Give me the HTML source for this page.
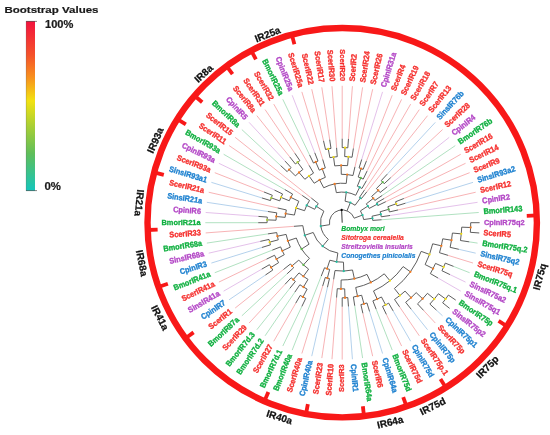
<!DOCTYPE html>
<html><head><meta charset="utf-8"><style>
html,body{margin:0;padding:0;background:#fff;}
svg{display:block;will-change:transform;}
text{-webkit-font-smoothing:antialiased;}
text{font-family:"Liberation Sans",sans-serif;}
</style></head><body>
<svg width="550" height="435" viewBox="0 0 550 435">
<defs><linearGradient id="cb" x1="0" y1="0" x2="0" y2="1">
<stop offset="0" stop-color="#f3123e"/><stop offset="0.2" stop-color="#f5522a"/><stop offset="0.33" stop-color="#f8901e"/>
<stop offset="0.47" stop-color="#f2e211"/><stop offset="0.62" stop-color="#a8cf35"/><stop offset="0.78" stop-color="#5fbe5a"/>
<stop offset="1" stop-color="#14c6bc"/></linearGradient></defs>
<rect width="550" height="435" fill="#fff"/>

<text transform="translate(4.4 13.0) scale(1.165 1)" font-size="9.9" font-weight="bold" fill="#1a1a1a" stroke="#1a1a1a" stroke-width="0.2">Bootstrap Values</text>
<rect x="26" y="21" width="9" height="170" fill="url(#cb)"/>
<line x1="26" y1="21.4" x2="37" y2="21.4" stroke="#555" stroke-width="0.7"/>
<line x1="26.2" y1="21" x2="26.2" y2="191" stroke="#666" stroke-width="0.5" opacity="0.6"/>
<line x1="26" y1="190.6" x2="37" y2="190.6" stroke="#555" stroke-width="0.7"/>
<text transform="translate(45.0 28.45) scale(1.1 1)" font-size="10.1" font-weight="bold" fill="#1a1a1a" stroke="#1a1a1a" stroke-width="0.2">100%</text>
<text transform="translate(44.5 190.4) scale(1.13 1)" font-size="10.1" font-weight="bold" fill="#1a1a1a" stroke="#1a1a1a" stroke-width="0.2">0%</text>
<line x1="348.48" y1="138.93" x2="352.43" y2="86.18" stroke="#f6a5a8" stroke-width="0.85"/>
<line x1="353.39" y1="148.44" x2="362.60" y2="87.33" stroke="#f6a5a8" stroke-width="0.85"/>
<line x1="354.95" y1="166.84" x2="372.66" y2="89.23" stroke="#f6a5a8" stroke-width="0.85"/>
<line x1="361.71" y1="159.44" x2="382.55" y2="91.88" stroke="#dfb6e6" stroke-width="0.85"/>
<line x1="366.39" y1="161.08" x2="392.22" y2="95.26" stroke="#f6a5a8" stroke-width="0.85"/>
<line x1="367.06" y1="171.07" x2="401.60" y2="99.36" stroke="#f6a5a8" stroke-width="0.85"/>
<line x1="366.40" y1="180.78" x2="410.65" y2="104.14" stroke="#f6a5a8" stroke-width="0.85"/>
<line x1="364.45" y1="190.06" x2="419.32" y2="109.59" stroke="#f6a5a8" stroke-width="0.85"/>
<line x1="366.83" y1="191.82" x2="427.56" y2="115.67" stroke="#f6a5a8" stroke-width="0.85"/>
<line x1="387.23" y1="174.17" x2="435.32" y2="122.35" stroke="#a6c9e8" stroke-width="0.85"/>
<line x1="390.73" y1="177.67" x2="442.55" y2="129.58" stroke="#f6a5a8" stroke-width="0.85"/>
<line x1="387.00" y1="186.97" x2="449.23" y2="137.34" stroke="#dfb6e6" stroke-width="0.85"/>
<line x1="382.19" y1="195.44" x2="455.31" y2="145.58" stroke="#a3dcb6" stroke-width="0.85"/>
<line x1="384.12" y1="198.50" x2="460.76" y2="154.25" stroke="#f6a5a8" stroke-width="0.85"/>
<line x1="385.81" y1="201.70" x2="465.54" y2="163.30" stroke="#f6a5a8" stroke-width="0.85"/>
<line x1="403.82" y1="198.51" x2="469.64" y2="172.68" stroke="#f6a5a8" stroke-width="0.85"/>
<line x1="405.46" y1="203.19" x2="473.02" y2="182.35" stroke="#a6c9e8" stroke-width="0.85"/>
<line x1="398.06" y1="209.95" x2="475.67" y2="192.24" stroke="#f6a5a8" stroke-width="0.85"/>
<line x1="390.06" y1="215.49" x2="477.57" y2="202.30" stroke="#dfb6e6" stroke-width="0.85"/>
<line x1="381.59" y1="219.75" x2="478.72" y2="212.47" stroke="#a3dcb6" stroke-width="0.85"/>
<line x1="469.26" y1="241.85" x2="477.57" y2="243.10" stroke="#a3dcb6" stroke-width="0.85"/>
<line x1="458.80" y1="249.31" x2="475.67" y2="253.16" stroke="#a6c9e8" stroke-width="0.85"/>
<line x1="447.98" y1="255.33" x2="473.02" y2="263.05" stroke="#f6a5a8" stroke-width="0.85"/>
<line x1="453.53" y1="266.39" x2="469.64" y2="272.72" stroke="#a3dcb6" stroke-width="0.85"/>
<line x1="449.96" y1="274.59" x2="465.54" y2="282.10" stroke="#dfb6e6" stroke-width="0.85"/>
<line x1="438.07" y1="278.05" x2="460.76" y2="291.15" stroke="#dfb6e6" stroke-width="0.85"/>
<line x1="436.40" y1="310.10" x2="442.55" y2="315.82" stroke="#a6c9e8" stroke-width="0.85"/>
<line x1="423.55" y1="310.37" x2="435.32" y2="323.05" stroke="#f6a5a8" stroke-width="0.85"/>
<line x1="411.22" y1="309.25" x2="427.56" y2="329.73" stroke="#a6c9e8" stroke-width="0.85"/>
<line x1="399.55" y1="306.81" x2="419.32" y2="335.81" stroke="#f6a5a8" stroke-width="0.85"/>
<line x1="393.10" y1="310.86" x2="410.65" y2="341.26" stroke="#a6c9e8" stroke-width="0.85"/>
<line x1="386.37" y1="314.42" x2="401.60" y2="346.04" stroke="#f6a5a8" stroke-width="0.85"/>
<line x1="376.14" y1="309.18" x2="392.22" y2="350.14" stroke="#a3dcb6" stroke-width="0.85"/>
<line x1="369.58" y1="311.47" x2="382.55" y2="353.52" stroke="#a6c9e8" stroke-width="0.85"/>
<line x1="362.87" y1="313.27" x2="372.66" y2="356.17" stroke="#f6a5a8" stroke-width="0.85"/>
<line x1="354.72" y1="305.76" x2="362.60" y2="358.07" stroke="#a3dcb6" stroke-width="0.85"/>
<line x1="348.48" y1="306.47" x2="352.43" y2="359.22" stroke="#a6c9e8" stroke-width="0.85"/>
<line x1="342.20" y1="306.70" x2="342.20" y2="359.60" stroke="#f6a5a8" stroke-width="0.85"/>
<line x1="336.59" y1="297.59" x2="331.97" y2="359.22" stroke="#f6a5a8" stroke-width="0.85"/>
<line x1="333.66" y1="279.36" x2="321.80" y2="358.07" stroke="#f6a5a8" stroke-width="0.85"/>
<line x1="327.47" y1="287.24" x2="311.74" y2="356.17" stroke="#a6c9e8" stroke-width="0.85"/>
<line x1="322.69" y1="285.96" x2="301.85" y2="353.52" stroke="#f6a5a8" stroke-width="0.85"/>
<line x1="321.27" y1="276.04" x2="292.18" y2="350.14" stroke="#a3dcb6" stroke-width="0.85"/>
<line x1="301.89" y1="306.40" x2="282.80" y2="346.04" stroke="#a3dcb6" stroke-width="0.85"/>
<line x1="295.75" y1="303.15" x2="273.75" y2="341.26" stroke="#f6a5a8" stroke-width="0.85"/>
<line x1="294.88" y1="292.10" x2="265.08" y2="335.81" stroke="#a3dcb6" stroke-width="0.85"/>
<line x1="289.83" y1="288.37" x2="256.84" y2="329.73" stroke="#a3dcb6" stroke-width="0.85"/>
<line x1="285.07" y1="284.28" x2="249.08" y2="323.05" stroke="#f6a5a8" stroke-width="0.85"/>
<line x1="287.15" y1="273.78" x2="241.85" y2="315.82" stroke="#a3dcb6" stroke-width="0.85"/>
<line x1="283.48" y1="269.52" x2="235.17" y2="308.06" stroke="#f6a5a8" stroke-width="0.85"/>
<line x1="265.44" y1="275.03" x2="229.09" y2="299.82" stroke="#a6c9e8" stroke-width="0.85"/>
<line x1="261.75" y1="269.15" x2="223.64" y2="291.15" stroke="#dfb6e6" stroke-width="0.85"/>
<line x1="266.52" y1="259.15" x2="218.86" y2="282.10" stroke="#f6a5a8" stroke-width="0.85"/>
<line x1="272.29" y1="250.14" x2="214.76" y2="272.72" stroke="#a3dcb6" stroke-width="0.85"/>
<line x1="261.93" y1="247.46" x2="211.38" y2="263.05" stroke="#a6c9e8" stroke-width="0.85"/>
<line x1="260.31" y1="241.39" x2="208.73" y2="253.16" stroke="#dfb6e6" stroke-width="0.85"/>
<line x1="267.94" y1="233.89" x2="206.83" y2="243.10" stroke="#a3dcb6" stroke-width="0.85"/>
<line x1="293.94" y1="226.32" x2="205.68" y2="232.93" stroke="#f6a5a8" stroke-width="0.85"/>
<line x1="258.20" y1="222.70" x2="205.30" y2="222.70" stroke="#a3dcb6" stroke-width="0.85"/>
<line x1="258.43" y1="216.42" x2="205.68" y2="212.47" stroke="#dfb6e6" stroke-width="0.85"/>
<line x1="267.94" y1="211.51" x2="206.83" y2="202.30" stroke="#a6c9e8" stroke-width="0.85"/>
<line x1="277.66" y1="207.97" x2="208.73" y2="192.24" stroke="#f6a5a8" stroke-width="0.85"/>
<line x1="261.93" y1="197.94" x2="211.38" y2="182.35" stroke="#a6c9e8" stroke-width="0.85"/>
<line x1="264.01" y1="192.01" x2="214.76" y2="172.68" stroke="#f6a5a8" stroke-width="0.85"/>
<line x1="274.54" y1="190.12" x2="218.86" y2="163.30" stroke="#dfb6e6" stroke-width="0.85"/>
<line x1="284.87" y1="189.60" x2="223.64" y2="154.25" stroke="#a3dcb6" stroke-width="0.85"/>
<line x1="302.21" y1="195.44" x2="229.09" y2="145.58" stroke="#f6a5a8" stroke-width="0.85"/>
<line x1="311.32" y1="198.07" x2="235.17" y2="137.34" stroke="#f6a5a8" stroke-width="0.85"/>
<line x1="280.62" y1="165.57" x2="241.85" y2="129.58" stroke="#a3dcb6" stroke-width="0.85"/>
<line x1="285.07" y1="161.12" x2="249.08" y2="122.35" stroke="#dfb6e6" stroke-width="0.85"/>
<line x1="289.83" y1="157.03" x2="256.84" y2="115.67" stroke="#f6a5a8" stroke-width="0.85"/>
<line x1="294.88" y1="153.30" x2="265.08" y2="109.59" stroke="#f6a5a8" stroke-width="0.85"/>
<line x1="309.10" y1="165.37" x2="273.75" y2="104.14" stroke="#f6a5a8" stroke-width="0.85"/>
<line x1="309.62" y1="155.04" x2="282.80" y2="99.36" stroke="#a3dcb6" stroke-width="0.85"/>
<line x1="314.76" y1="152.79" x2="292.18" y2="95.26" stroke="#dfb6e6" stroke-width="0.85"/>
<line x1="322.69" y1="159.44" x2="301.85" y2="91.88" stroke="#f6a5a8" stroke-width="0.85"/>
<line x1="323.51" y1="140.81" x2="311.74" y2="89.23" stroke="#f6a5a8" stroke-width="0.85"/>
<line x1="329.68" y1="139.64" x2="321.80" y2="87.33" stroke="#f6a5a8" stroke-width="0.85"/>
<line x1="336.59" y1="147.81" x2="331.97" y2="86.18" stroke="#f6a5a8" stroke-width="0.85"/>
<line x1="342.20" y1="138.70" x2="342.20" y2="85.80" stroke="#f6a5a8" stroke-width="0.85"/>
<text transform="translate(352.79 81.40) rotate(-85.71) scale(1 1.08)" text-anchor="start" dy="0.24em" font-size="7.4" font-weight="bold" fill="#f5302e" stroke="#f5302e" stroke-width="0.3">ScerIR2</text>
<text transform="translate(363.32 82.58) rotate(-81.43) scale(1 1.08)" text-anchor="start" dy="0.24em" font-size="7.4" font-weight="bold" fill="#f5302e" stroke="#f5302e" stroke-width="0.3">ScerIR24</text>
<text transform="translate(373.73 84.55) rotate(-77.14) scale(1 1.08)" text-anchor="start" dy="0.24em" font-size="7.4" font-weight="bold" fill="#f5302e" stroke="#f5302e" stroke-width="0.3">ScerIR26</text>
<text transform="translate(383.97 87.30) rotate(-72.86) scale(1 1.08)" text-anchor="start" dy="0.24em" font-size="7.4" font-weight="bold" fill="#b347c6" stroke="#b347c6" stroke-width="0.3">CpinIR31a</text>
<text transform="translate(393.97 90.80) rotate(-68.57) scale(1 1.08)" text-anchor="start" dy="0.24em" font-size="7.4" font-weight="bold" fill="#f5302e" stroke="#f5302e" stroke-width="0.3">ScerIR4</text>
<text transform="translate(403.68 95.03) rotate(-64.29) scale(1 1.08)" text-anchor="start" dy="0.24em" font-size="7.4" font-weight="bold" fill="#f5302e" stroke="#f5302e" stroke-width="0.3">ScerIR19</text>
<text transform="translate(413.05 99.98) rotate(-60.00) scale(1 1.08)" text-anchor="start" dy="0.24em" font-size="7.4" font-weight="bold" fill="#f5302e" stroke="#f5302e" stroke-width="0.3">ScerIR18</text>
<text transform="translate(422.02 105.62) rotate(-55.71) scale(1 1.08)" text-anchor="start" dy="0.24em" font-size="7.4" font-weight="bold" fill="#f5302e" stroke="#f5302e" stroke-width="0.3">ScerIR7</text>
<text transform="translate(430.55 111.91) rotate(-51.43) scale(1 1.08)" text-anchor="start" dy="0.24em" font-size="7.4" font-weight="bold" fill="#f5302e" stroke="#f5302e" stroke-width="0.3">ScerIR13</text>
<text transform="translate(438.58 118.83) rotate(-47.14) scale(1 1.08)" text-anchor="start" dy="0.24em" font-size="7.4" font-weight="bold" fill="#1f82d0" stroke="#1f82d0" stroke-width="0.3">SinsIR76b</text>
<text transform="translate(446.07 126.32) rotate(-42.86) scale(1 1.08)" text-anchor="start" dy="0.24em" font-size="7.4" font-weight="bold" fill="#f5302e" stroke="#f5302e" stroke-width="0.3">ScerIR28</text>
<text transform="translate(452.99 134.35) rotate(-38.57) scale(1 1.08)" text-anchor="start" dy="0.24em" font-size="7.4" font-weight="bold" fill="#b347c6" stroke="#b347c6" stroke-width="0.3">CpinIR4</text>
<text transform="translate(459.28 142.88) rotate(-34.29) scale(1 1.08)" text-anchor="start" dy="0.24em" font-size="7.4" font-weight="bold" fill="#10b040" stroke="#10b040" stroke-width="0.3">BmorIR76b</text>
<text transform="translate(464.92 151.85) rotate(-30.00) scale(1 1.08)" text-anchor="start" dy="0.24em" font-size="7.4" font-weight="bold" fill="#f5302e" stroke="#f5302e" stroke-width="0.3">ScerIR16</text>
<text transform="translate(469.87 161.22) rotate(-25.71) scale(1 1.08)" text-anchor="start" dy="0.24em" font-size="7.4" font-weight="bold" fill="#f5302e" stroke="#f5302e" stroke-width="0.3">ScerIR14</text>
<text transform="translate(474.10 170.93) rotate(-21.43) scale(1 1.08)" text-anchor="start" dy="0.24em" font-size="7.4" font-weight="bold" fill="#f5302e" stroke="#f5302e" stroke-width="0.3">ScerIR9</text>
<text transform="translate(477.60 180.93) rotate(-17.14) scale(1 1.08)" text-anchor="start" dy="0.24em" font-size="7.4" font-weight="bold" fill="#1f82d0" stroke="#1f82d0" stroke-width="0.3">SinsIR93a2</text>
<text transform="translate(480.35 191.17) rotate(-12.86) scale(1 1.08)" text-anchor="start" dy="0.24em" font-size="7.4" font-weight="bold" fill="#f5302e" stroke="#f5302e" stroke-width="0.3">ScerIR12</text>
<text transform="translate(482.32 201.58) rotate(-8.57) scale(1 1.08)" text-anchor="start" dy="0.24em" font-size="7.4" font-weight="bold" fill="#b347c6" stroke="#b347c6" stroke-width="0.3">CpinIR2</text>
<text transform="translate(483.50 212.11) rotate(-4.29) scale(1 1.08)" text-anchor="start" dy="0.24em" font-size="7.4" font-weight="bold" fill="#10b040" stroke="#10b040" stroke-width="0.3">BmorIR143</text>
<text transform="translate(483.90 222.70) rotate(0.00) scale(1 1.08)" text-anchor="start" dy="0.24em" font-size="7.4" font-weight="bold" fill="#b347c6" stroke="#b347c6" stroke-width="0.3">CpinIR75q2</text>
<text transform="translate(483.50 233.29) rotate(4.29) scale(1 1.08)" text-anchor="start" dy="0.24em" font-size="7.4" font-weight="bold" fill="#f5302e" stroke="#f5302e" stroke-width="0.3">ScerIR5</text>
<text transform="translate(482.32 243.82) rotate(8.57) scale(1 1.08)" text-anchor="start" dy="0.24em" font-size="7.4" font-weight="bold" fill="#10b040" stroke="#10b040" stroke-width="0.3">BmorIR75q.2</text>
<text transform="translate(480.35 254.23) rotate(12.86) scale(1 1.08)" text-anchor="start" dy="0.24em" font-size="7.4" font-weight="bold" fill="#1f82d0" stroke="#1f82d0" stroke-width="0.3">SinsIR75q2</text>
<text transform="translate(477.60 264.47) rotate(17.14) scale(1 1.08)" text-anchor="start" dy="0.24em" font-size="7.4" font-weight="bold" fill="#f5302e" stroke="#f5302e" stroke-width="0.3">ScerIR75q</text>
<text transform="translate(474.10 274.47) rotate(21.43) scale(1 1.08)" text-anchor="start" dy="0.24em" font-size="7.4" font-weight="bold" fill="#10b040" stroke="#10b040" stroke-width="0.3">BmorIR75q.1</text>
<text transform="translate(469.87 284.18) rotate(25.71) scale(1 1.08)" text-anchor="start" dy="0.24em" font-size="7.4" font-weight="bold" fill="#b347c6" stroke="#b347c6" stroke-width="0.3">SinsIR75a2</text>
<text transform="translate(464.92 293.55) rotate(30.00) scale(1 1.08)" text-anchor="start" dy="0.24em" font-size="7.4" font-weight="bold" fill="#b347c6" stroke="#b347c6" stroke-width="0.3">SinsIR75q1</text>
<text transform="translate(459.28 302.52) rotate(34.29) scale(1 1.08)" text-anchor="start" dy="0.24em" font-size="7.4" font-weight="bold" fill="#10b040" stroke="#10b040" stroke-width="0.3">BmorIR75p</text>
<text transform="translate(452.99 311.05) rotate(38.57) scale(1 1.08)" text-anchor="start" dy="0.24em" font-size="7.4" font-weight="bold" fill="#b347c6" stroke="#b347c6" stroke-width="0.3">SinsIR75p2</text>
<text transform="translate(446.07 319.08) rotate(42.86) scale(1 1.08)" text-anchor="start" dy="0.24em" font-size="7.4" font-weight="bold" fill="#1f82d0" stroke="#1f82d0" stroke-width="0.3">CpinIR75p1</text>
<text transform="translate(438.58 326.57) rotate(47.14) scale(1 1.08)" text-anchor="start" dy="0.24em" font-size="7.4" font-weight="bold" fill="#f5302e" stroke="#f5302e" stroke-width="0.3">ScerIR75p</text>
<text transform="translate(430.55 333.49) rotate(51.43) scale(1 1.08)" text-anchor="start" dy="0.24em" font-size="7.4" font-weight="bold" fill="#1f82d0" stroke="#1f82d0" stroke-width="0.3">CpinIR75p</text>
<text transform="translate(422.02 339.78) rotate(55.71) scale(1 1.08)" text-anchor="start" dy="0.24em" font-size="7.4" font-weight="bold" fill="#f5302e" stroke="#f5302e" stroke-width="0.3">ScerIR75p.1</text>
<text transform="translate(413.05 345.42) rotate(60.00) scale(1 1.08)" text-anchor="start" dy="0.24em" font-size="7.4" font-weight="bold" fill="#1f82d0" stroke="#1f82d0" stroke-width="0.3">CpinIR75d</text>
<text transform="translate(403.68 350.37) rotate(64.29) scale(1 1.08)" text-anchor="start" dy="0.24em" font-size="7.4" font-weight="bold" fill="#f5302e" stroke="#f5302e" stroke-width="0.3">ScerIR75d</text>
<text transform="translate(393.97 354.60) rotate(68.57) scale(1 1.08)" text-anchor="start" dy="0.24em" font-size="7.4" font-weight="bold" fill="#10b040" stroke="#10b040" stroke-width="0.3">BmorIR75d</text>
<text transform="translate(383.97 358.10) rotate(72.86) scale(1 1.08)" text-anchor="start" dy="0.24em" font-size="7.4" font-weight="bold" fill="#1f82d0" stroke="#1f82d0" stroke-width="0.3">CpinIR64a</text>
<text transform="translate(373.73 360.85) rotate(77.14) scale(1 1.08)" text-anchor="start" dy="0.24em" font-size="7.4" font-weight="bold" fill="#f5302e" stroke="#f5302e" stroke-width="0.3">ScerIR6</text>
<text transform="translate(363.32 362.82) rotate(81.43) scale(1 1.08)" text-anchor="start" dy="0.24em" font-size="7.4" font-weight="bold" fill="#10b040" stroke="#10b040" stroke-width="0.3">BmorIR64a</text>
<text transform="translate(352.79 364.00) rotate(85.71) scale(1 1.08)" text-anchor="start" dy="0.24em" font-size="7.4" font-weight="bold" fill="#1f82d0" stroke="#1f82d0" stroke-width="0.3">CpinIR1</text>
<text transform="translate(342.20 364.40) rotate(-90.00) scale(1 1.08)" text-anchor="end" dy="0.24em" font-size="7.4" font-weight="bold" fill="#f5302e" stroke="#f5302e" stroke-width="0.3">ScerIR3</text>
<text transform="translate(331.61 364.00) rotate(-85.71) scale(1 1.08)" text-anchor="end" dy="0.24em" font-size="7.4" font-weight="bold" fill="#f5302e" stroke="#f5302e" stroke-width="0.3">ScerIR10</text>
<text transform="translate(321.08 362.82) rotate(-81.43) scale(1 1.08)" text-anchor="end" dy="0.24em" font-size="7.4" font-weight="bold" fill="#f5302e" stroke="#f5302e" stroke-width="0.3">ScerIR23</text>
<text transform="translate(310.67 360.85) rotate(-77.14) scale(1 1.08)" text-anchor="end" dy="0.24em" font-size="7.4" font-weight="bold" fill="#1f82d0" stroke="#1f82d0" stroke-width="0.3">CpinIR40a</text>
<text transform="translate(300.43 358.10) rotate(-72.86) scale(1 1.08)" text-anchor="end" dy="0.24em" font-size="7.4" font-weight="bold" fill="#f5302e" stroke="#f5302e" stroke-width="0.3">ScerIR40a</text>
<text transform="translate(290.43 354.60) rotate(-68.57) scale(1 1.08)" text-anchor="end" dy="0.24em" font-size="7.4" font-weight="bold" fill="#10b040" stroke="#10b040" stroke-width="0.3">BmorIR40a</text>
<text transform="translate(280.72 350.37) rotate(-64.29) scale(1 1.08)" text-anchor="end" dy="0.24em" font-size="7.4" font-weight="bold" fill="#10b040" stroke="#10b040" stroke-width="0.3">BmorIR7d.1</text>
<text transform="translate(271.35 345.42) rotate(-60.00) scale(1 1.08)" text-anchor="end" dy="0.24em" font-size="7.4" font-weight="bold" fill="#f5302e" stroke="#f5302e" stroke-width="0.3">ScerIR27</text>
<text transform="translate(262.38 339.78) rotate(-55.71) scale(1 1.08)" text-anchor="end" dy="0.24em" font-size="7.4" font-weight="bold" fill="#10b040" stroke="#10b040" stroke-width="0.3">BmorIR7d.2</text>
<text transform="translate(253.85 333.49) rotate(-51.43) scale(1 1.08)" text-anchor="end" dy="0.24em" font-size="7.4" font-weight="bold" fill="#10b040" stroke="#10b040" stroke-width="0.3">BmorIR7d.3</text>
<text transform="translate(245.82 326.57) rotate(-47.14) scale(1 1.08)" text-anchor="end" dy="0.24em" font-size="7.4" font-weight="bold" fill="#f5302e" stroke="#f5302e" stroke-width="0.3">ScerIR29</text>
<text transform="translate(238.33 319.08) rotate(-42.86) scale(1 1.08)" text-anchor="end" dy="0.24em" font-size="7.4" font-weight="bold" fill="#10b040" stroke="#10b040" stroke-width="0.3">BmorIR87a</text>
<text transform="translate(231.41 311.05) rotate(-38.57) scale(1 1.08)" text-anchor="end" dy="0.24em" font-size="7.4" font-weight="bold" fill="#f5302e" stroke="#f5302e" stroke-width="0.3">ScerIR1</text>
<text transform="translate(225.12 302.52) rotate(-34.29) scale(1 1.08)" text-anchor="end" dy="0.24em" font-size="7.4" font-weight="bold" fill="#1f82d0" stroke="#1f82d0" stroke-width="0.3">CpinIR7</text>
<text transform="translate(219.48 293.55) rotate(-30.00) scale(1 1.08)" text-anchor="end" dy="0.24em" font-size="7.4" font-weight="bold" fill="#b347c6" stroke="#b347c6" stroke-width="0.3">SinsIR41a</text>
<text transform="translate(214.53 284.18) rotate(-25.71) scale(1 1.08)" text-anchor="end" dy="0.24em" font-size="7.4" font-weight="bold" fill="#f5302e" stroke="#f5302e" stroke-width="0.3">ScerIR41a</text>
<text transform="translate(210.30 274.47) rotate(-21.43) scale(1 1.08)" text-anchor="end" dy="0.24em" font-size="7.4" font-weight="bold" fill="#10b040" stroke="#10b040" stroke-width="0.3">BmorIR41a</text>
<text transform="translate(206.80 264.47) rotate(-17.14) scale(1 1.08)" text-anchor="end" dy="0.24em" font-size="7.4" font-weight="bold" fill="#1f82d0" stroke="#1f82d0" stroke-width="0.3">CpinIR3</text>
<text transform="translate(204.05 254.23) rotate(-12.86) scale(1 1.08)" text-anchor="end" dy="0.24em" font-size="7.4" font-weight="bold" fill="#b347c6" stroke="#b347c6" stroke-width="0.3">SinsIR68a</text>
<text transform="translate(202.08 243.82) rotate(-8.57) scale(1 1.08)" text-anchor="end" dy="0.24em" font-size="7.4" font-weight="bold" fill="#10b040" stroke="#10b040" stroke-width="0.3">BmorIR68a</text>
<text transform="translate(200.90 233.29) rotate(-4.29) scale(1 1.08)" text-anchor="end" dy="0.24em" font-size="7.4" font-weight="bold" fill="#f5302e" stroke="#f5302e" stroke-width="0.3">ScerIR33</text>
<text transform="translate(200.50 222.70) rotate(0.00) scale(1 1.08)" text-anchor="end" dy="0.24em" font-size="7.4" font-weight="bold" fill="#10b040" stroke="#10b040" stroke-width="0.3">BmorIR21a</text>
<text transform="translate(200.90 212.11) rotate(4.29) scale(1 1.08)" text-anchor="end" dy="0.24em" font-size="7.4" font-weight="bold" fill="#b347c6" stroke="#b347c6" stroke-width="0.3">CpinIR6</text>
<text transform="translate(202.08 201.58) rotate(8.57) scale(1 1.08)" text-anchor="end" dy="0.24em" font-size="7.4" font-weight="bold" fill="#1f82d0" stroke="#1f82d0" stroke-width="0.3">SinsIR21a</text>
<text transform="translate(204.05 191.17) rotate(12.86) scale(1 1.08)" text-anchor="end" dy="0.24em" font-size="7.4" font-weight="bold" fill="#f5302e" stroke="#f5302e" stroke-width="0.3">ScerIR21a</text>
<text transform="translate(206.80 180.93) rotate(17.14) scale(1 1.08)" text-anchor="end" dy="0.24em" font-size="7.4" font-weight="bold" fill="#1f82d0" stroke="#1f82d0" stroke-width="0.3">SinsIR93a1</text>
<text transform="translate(210.30 170.93) rotate(21.43) scale(1 1.08)" text-anchor="end" dy="0.24em" font-size="7.4" font-weight="bold" fill="#f5302e" stroke="#f5302e" stroke-width="0.3">ScerIR93a</text>
<text transform="translate(214.53 161.22) rotate(25.71) scale(1 1.08)" text-anchor="end" dy="0.24em" font-size="7.4" font-weight="bold" fill="#b347c6" stroke="#b347c6" stroke-width="0.3">CpinIR93a</text>
<text transform="translate(219.48 151.85) rotate(30.00) scale(1 1.08)" text-anchor="end" dy="0.24em" font-size="7.4" font-weight="bold" fill="#10b040" stroke="#10b040" stroke-width="0.3">BmorIR93a</text>
<text transform="translate(225.12 142.88) rotate(34.29) scale(1 1.08)" text-anchor="end" dy="0.24em" font-size="7.4" font-weight="bold" fill="#f5302e" stroke="#f5302e" stroke-width="0.3">ScerIR11</text>
<text transform="translate(231.41 134.35) rotate(38.57) scale(1 1.08)" text-anchor="end" dy="0.24em" font-size="7.4" font-weight="bold" fill="#f5302e" stroke="#f5302e" stroke-width="0.3">ScerIR15</text>
<text transform="translate(238.33 126.32) rotate(42.86) scale(1 1.08)" text-anchor="end" dy="0.24em" font-size="7.4" font-weight="bold" fill="#10b040" stroke="#10b040" stroke-width="0.3">BmorIR8a</text>
<text transform="translate(245.82 118.83) rotate(47.14) scale(1 1.08)" text-anchor="end" dy="0.24em" font-size="7.4" font-weight="bold" fill="#b347c6" stroke="#b347c6" stroke-width="0.3">CpinIR5</text>
<text transform="translate(253.85 111.91) rotate(51.43) scale(1 1.08)" text-anchor="end" dy="0.24em" font-size="7.4" font-weight="bold" fill="#f5302e" stroke="#f5302e" stroke-width="0.3">ScerIR8a</text>
<text transform="translate(262.38 105.62) rotate(55.71) scale(1 1.08)" text-anchor="end" dy="0.24em" font-size="7.4" font-weight="bold" fill="#f5302e" stroke="#f5302e" stroke-width="0.3">ScerIR31</text>
<text transform="translate(271.35 99.98) rotate(60.00) scale(1 1.08)" text-anchor="end" dy="0.24em" font-size="7.4" font-weight="bold" fill="#f5302e" stroke="#f5302e" stroke-width="0.3">ScerIR32</text>
<text transform="translate(280.72 95.03) rotate(64.29) scale(1 1.08)" text-anchor="end" dy="0.24em" font-size="7.4" font-weight="bold" fill="#10b040" stroke="#10b040" stroke-width="0.3">BmorIR25a</text>
<text transform="translate(290.43 90.80) rotate(68.57) scale(1 1.08)" text-anchor="end" dy="0.24em" font-size="7.4" font-weight="bold" fill="#b347c6" stroke="#b347c6" stroke-width="0.3">CpinIR25a</text>
<text transform="translate(300.43 87.30) rotate(72.86) scale(1 1.08)" text-anchor="end" dy="0.24em" font-size="7.4" font-weight="bold" fill="#f5302e" stroke="#f5302e" stroke-width="0.3">ScerIR25a</text>
<text transform="translate(310.67 84.55) rotate(77.14) scale(1 1.08)" text-anchor="end" dy="0.24em" font-size="7.4" font-weight="bold" fill="#f5302e" stroke="#f5302e" stroke-width="0.3">ScerIR22</text>
<text transform="translate(321.08 82.58) rotate(81.43) scale(1 1.08)" text-anchor="end" dy="0.24em" font-size="7.4" font-weight="bold" fill="#f5302e" stroke="#f5302e" stroke-width="0.3">ScerIR17</text>
<text transform="translate(331.61 81.40) rotate(85.71) scale(1 1.08)" text-anchor="end" dy="0.24em" font-size="7.4" font-weight="bold" fill="#f5302e" stroke="#f5302e" stroke-width="0.3">ScerIR30</text>
<text transform="translate(342.20 81.00) rotate(90.00) scale(1 1.08)" text-anchor="end" dy="0.24em" font-size="7.4" font-weight="bold" fill="#f5302e" stroke="#f5302e" stroke-width="0.3">ScerIR20</text>
<path d="M287.15 171.62A75.10 75.10 0 0 1 291.12 167.65M295.38 163.98A75.10 75.10 0 0 1 299.89 160.65M295.39 175.89A66.20 66.20 0 0 1 302.89 169.44M304.82 179.27A57.30 57.30 0 0 1 313.55 173.08M313.48 163.06A66.20 66.20 0 0 1 318.01 161.08M319.29 170.18A57.30 57.30 0 0 1 325.31 167.95M314.19 183.23A48.40 48.40 0 0 1 325.36 177.32M325.49 149.48A75.10 75.10 0 0 1 331.01 148.44M329.89 157.65A66.20 66.20 0 0 1 337.25 156.69M342.20 147.60A75.10 75.10 0 0 1 347.81 147.81M344.68 156.55A66.20 66.20 0 0 1 352.07 157.24M334.72 165.89A57.30 57.30 0 0 1 347.55 165.65M341.29 174.31A48.40 48.40 0 0 1 352.97 175.51M323.74 187.78A39.50 39.50 0 0 1 346.26 183.41M359.09 167.95A57.30 57.30 0 0 1 363.13 169.36M358.19 177.02A48.40 48.40 0 0 1 363.20 179.09M357.32 186.21A39.50 39.50 0 0 1 361.95 188.49M336.37 192.66A30.60 30.60 0 0 1 355.73 195.26M359.44 197.42A30.60 30.60 0 0 1 361.28 198.78M345.08 201.19A21.70 21.70 0 0 1 355.09 205.24M381.17 180.70A57.30 57.30 0 0 1 384.20 183.73M376.42 188.48A48.40 48.40 0 0 1 380.04 192.52M371.65 196.38A39.50 39.50 0 0 1 374.84 200.45M376.41 202.95A39.50 39.50 0 0 1 377.79 205.56M366.30 203.85A30.60 30.60 0 0 1 369.25 208.40M395.54 201.77A57.30 57.30 0 0 1 396.95 205.81M387.88 206.71A48.40 48.40 0 0 1 389.39 211.93M380.16 211.76A39.50 39.50 0 0 1 381.26 216.81M372.10 216.17A30.60 30.60 0 0 1 372.71 220.41M360.41 210.90A21.70 21.70 0 0 1 363.67 219.57M270.44 200.56A75.10 75.10 0 0 1 272.29 195.26M279.71 200.84A66.20 66.20 0 0 1 282.56 193.98M289.26 200.77A57.30 57.30 0 0 1 292.58 194.05M267.10 222.70A75.10 75.10 0 0 1 267.31 217.09M276.05 220.22A66.20 66.20 0 0 1 276.74 212.83M285.15 217.35A57.30 57.30 0 0 1 286.34 209.95M294.41 215.04A48.40 48.40 0 0 1 298.79 201.29M304.57 210.70A39.50 39.50 0 0 1 309.56 200.45M314.69 209.29A30.60 30.60 0 0 1 318.28 203.62M270.44 244.84A75.10 75.10 0 0 1 268.98 239.41M278.26 239.83A66.20 66.20 0 0 1 276.74 232.57M272.80 270.02A84.00 84.00 0 0 1 269.45 264.70M278.61 262.66A75.10 75.10 0 0 1 274.54 255.28M284.26 254.72A66.20 66.20 0 0 1 280.58 246.89M290.34 247.08A57.30 57.30 0 0 1 286.11 234.40M293.67 267.73A66.20 66.20 0 0 1 290.44 263.98M295.38 281.42A75.10 75.10 0 0 1 291.12 277.75M305.75 298.38A84.00 84.00 0 0 1 300.20 295.45M307.11 289.10A75.10 75.10 0 0 1 299.89 284.75M308.03 279.40A66.20 66.20 0 0 1 299.02 272.88M308.61 269.12A57.30 57.30 0 0 1 298.77 260.08M309.45 258.33A48.40 48.40 0 0 1 296.30 238.04M309.05 244.18A39.50 39.50 0 0 1 302.81 225.65M329.45 278.56A57.30 57.30 0 0 1 325.31 277.45M329.67 269.45A48.40 48.40 0 0 1 324.52 267.75M347.81 297.59A75.10 75.10 0 0 1 342.20 297.80M344.68 288.85A66.20 66.20 0 0 1 337.25 288.71M366.96 302.97A84.00 84.00 0 0 1 360.89 304.59M361.64 295.24A75.10 75.10 0 0 1 353.39 296.96M448.37 295.09A128.50 128.50 0 0 1 442.67 302.82M438.43 293.72A119.60 119.60 0 0 1 429.87 304.05M427.44 293.33A110.70 110.70 0 0 1 417.50 303.85M416.17 292.64A101.80 101.80 0 0 1 405.67 302.29M405.07 291.10A92.90 92.90 0 0 1 394.53 299.46M470.70 222.70A128.50 128.50 0 0 1 470.34 232.30M461.72 227.17A119.60 119.60 0 0 1 460.46 240.53M452.42 233.04A110.70 110.70 0 0 1 450.12 247.33M442.72 238.81A101.80 101.80 0 0 1 439.48 252.71M445.25 263.14A110.70 110.70 0 0 1 441.94 270.73M435.51 263.41A101.80 101.80 0 0 1 430.36 273.60M432.67 243.80A92.90 92.90 0 0 1 425.13 264.57M421.16 251.37A84.00 84.00 0 0 1 394.42 288.50M388.65 303.15A92.90 92.90 0 0 1 382.51 306.40M381.45 296.97A84.00 84.00 0 0 1 372.89 300.89M403.14 266.59A75.10 75.10 0 0 1 373.51 290.96M384.26 273.82A66.20 66.20 0 0 1 355.72 287.50M366.97 274.37A57.30 57.30 0 0 1 341.13 279.99M352.49 269.99A48.40 48.40 0 0 1 334.99 270.56M343.48 262.18A39.50 39.50 0 0 1 329.85 260.22M337.84 252.99A30.60 30.60 0 0 1 313.20 232.47M328.31 239.38A21.70 21.70 0 0 1 323.85 211.11M329.56 224.70A12.80 12.80 0 0 1 354.18 218.19M287.15 171.62L280.62 165.57M291.12 167.65L285.07 161.12M295.38 163.98L289.83 157.03M299.89 160.65L294.88 153.30M295.39 175.89L289.10 169.60M302.89 169.44L297.60 162.27M304.82 179.27L299.02 172.52M313.55 173.08L309.10 165.37M313.48 163.06L309.62 155.04M318.01 161.08L314.76 152.79M319.29 170.18L315.73 162.02M325.31 167.95L322.69 159.44M314.19 183.23L309.04 175.97M325.36 177.32L322.27 168.98M325.49 149.48L323.51 140.81M331.01 148.44L329.68 139.64M329.89 157.65L328.24 148.91M337.25 156.69L336.59 147.81M342.20 147.60L342.20 138.70M347.81 147.81L348.48 138.93M344.68 156.55L345.01 147.65M352.07 157.24L353.39 148.44M334.72 165.89L333.56 157.07M347.55 165.65L348.38 156.79M341.29 174.31L341.13 165.41M352.97 175.51L354.95 166.84M323.74 187.78L319.58 179.91M346.26 183.41L347.17 174.56M359.09 167.95L361.71 159.44M363.13 169.36L366.39 161.08M358.19 177.02L361.12 168.62M363.20 179.09L367.06 171.07M357.32 186.21L360.72 177.98M361.95 188.49L366.40 180.78M336.37 192.66L334.68 183.92M355.73 195.26L359.67 187.27M359.44 197.42L364.45 190.06M361.28 198.78L366.83 191.82M345.08 201.19L346.27 192.37M355.09 205.24L360.37 198.08M381.17 180.70L387.23 174.17M384.20 183.73L390.73 177.67M376.42 188.48L382.72 182.18M380.04 192.52L387.00 186.97M371.65 196.38L378.29 190.45M374.84 200.45L382.19 195.44M376.41 202.95L384.12 198.50M377.79 205.56L385.81 201.70M366.30 203.85L373.31 198.36M369.25 208.40L377.12 204.24M395.54 201.77L403.82 198.51M396.95 205.81L405.46 203.19M387.88 206.71L396.28 203.78M389.39 211.93L398.06 209.95M380.16 211.76L388.71 209.30M381.26 216.81L390.06 215.49M372.10 216.17L380.79 214.27M372.71 220.41L381.59 219.75M360.41 210.90L367.88 206.06M363.67 219.57L372.48 218.28M270.44 200.56L261.93 197.94M272.29 195.26L264.01 192.01M279.71 200.84L271.31 197.90M282.56 193.98L274.54 190.12M289.26 200.77L281.04 197.37M292.58 194.05L284.87 189.60M267.10 222.70L258.20 222.70M267.31 217.09L258.43 216.42M276.05 220.22L267.15 219.89M276.74 212.83L267.94 211.51M285.15 217.35L276.29 216.52M286.34 209.95L277.66 207.97M298.79 201.29L290.81 197.36M294.41 215.04L285.62 213.63M304.57 210.70L296.09 208.00M309.56 200.45L302.21 195.44M314.69 209.29L306.69 205.40M318.28 203.62L311.32 198.07M270.44 244.84L261.93 247.46M268.98 239.41L260.31 241.39M278.26 239.83L269.66 242.14M276.74 232.57L267.94 233.89M272.80 270.02L265.44 275.03M269.45 264.70L261.75 269.15M278.61 262.66L271.08 267.39M274.54 255.28L266.52 259.15M284.26 254.72L276.47 259.03M280.58 246.89L272.29 250.14M286.11 234.40L277.40 236.22M290.34 247.08L282.29 250.86M293.67 267.73L287.15 273.78M290.44 263.98L283.48 269.52M295.38 281.42L289.83 288.37M291.12 277.75L285.07 284.28M305.75 298.38L301.89 306.40M300.20 295.45L295.75 303.15M307.11 289.10L302.95 296.97M299.89 284.75L294.88 292.10M299.02 272.88L293.21 279.62M308.03 279.40L303.44 287.02M298.77 260.08L292.02 265.88M308.61 269.12L303.39 276.33M296.30 238.04L287.86 240.86M309.45 258.33L303.42 264.89M302.81 225.65L293.94 226.32M309.05 244.18L301.58 249.02M329.45 278.56L327.47 287.24M325.31 277.45L322.69 285.96M329.67 269.45L327.37 278.05M324.52 267.75L321.27 276.04M347.81 297.59L348.48 306.47M342.20 297.80L342.20 306.70M344.68 288.85L345.01 297.75M337.25 288.71L336.59 297.59M366.96 302.97L369.58 311.47M360.89 304.59L362.87 313.27M361.64 295.24L363.94 303.84M353.39 296.96L354.72 305.76M448.37 295.09L455.73 300.10M442.67 302.82L449.62 308.37M438.43 293.72L445.59 299.01M429.87 304.05L436.40 310.10M427.44 293.33L434.30 299.00M417.50 303.85L423.55 310.37M416.17 292.64L422.64 298.75M405.67 302.29L411.22 309.25M405.07 291.10L411.09 297.65M394.53 299.46L399.55 306.81M470.70 222.70L479.60 222.70M470.34 232.30L479.22 232.97M461.72 227.17L470.61 227.50M460.46 240.53L469.26 241.85M452.42 233.04L461.28 233.87M450.12 247.33L458.80 249.31M442.72 238.81L451.50 240.22M439.48 252.71L447.98 255.33M445.25 263.14L453.53 266.39M441.94 270.73L449.96 274.59M435.51 263.41L443.66 266.97M430.36 273.60L438.07 278.05M432.67 243.80L441.34 245.82M425.13 264.57L433.08 268.58M394.42 288.50L399.95 295.47M421.16 251.37L429.52 254.41M388.65 303.15L393.10 310.86M382.51 306.40L386.37 314.42M381.45 296.97L385.61 304.83M372.89 300.89L376.14 309.18M403.14 266.59L410.36 271.79M373.51 290.96L377.22 299.05M355.72 287.50L357.54 296.22M384.26 273.82L389.91 280.70M341.13 279.99L340.96 288.89M366.97 274.37L370.82 282.39M334.99 270.56L333.66 279.36M352.49 269.99L354.38 278.69M329.85 260.22L327.07 268.67M343.48 262.18L343.76 271.07M313.20 232.47L304.77 235.31M337.84 252.99L336.58 261.80M323.85 211.11L316.33 206.36M328.31 239.38L322.62 246.22M347.00 210.83L350.34 202.58M354.18 218.19L362.51 215.06M329.56 224.70L320.77 226.08" fill="none" stroke="#555" stroke-width="0.95"/>
<line x1="342.2" y1="222.7" x2="341.64" y2="209.91" stroke="#222" stroke-width="0.9"/>
<circle cx="289.10" cy="169.60" r="1.15" fill="#f57b20"/>
<circle cx="297.60" cy="162.27" r="1.15" fill="#a9d13a"/>
<circle cx="299.02" cy="172.52" r="1.15" fill="#f57b20"/>
<circle cx="309.04" cy="175.97" r="1.15" fill="#f3df12"/>
<circle cx="315.73" cy="162.02" r="1.15" fill="#f57b20"/>
<circle cx="322.27" cy="168.98" r="1.15" fill="#f57b20"/>
<circle cx="319.58" cy="179.91" r="1.15" fill="#f57b20"/>
<circle cx="328.24" cy="148.91" r="1.15" fill="#f3df12"/>
<circle cx="333.56" cy="157.07" r="1.15" fill="#f3df12"/>
<circle cx="345.01" cy="147.65" r="1.15" fill="#f3df12"/>
<circle cx="348.38" cy="156.79" r="1.15" fill="#f3df12"/>
<circle cx="341.13" cy="165.41" r="1.15" fill="#f57b20"/>
<circle cx="347.17" cy="174.56" r="1.15" fill="#f57b20"/>
<circle cx="334.68" cy="183.92" r="1.15" fill="#f57b20"/>
<circle cx="361.12" cy="168.62" r="1.15" fill="#f57b20"/>
<circle cx="360.72" cy="177.98" r="1.15" fill="#5cb947"/>
<circle cx="359.67" cy="187.27" r="1.15" fill="#22c3a3"/>
<circle cx="346.27" cy="192.37" r="1.15" fill="#22c3a3"/>
<circle cx="360.37" cy="198.08" r="1.15" fill="#22c3a3"/>
<circle cx="350.34" cy="202.58" r="1.15" fill="#22c3a3"/>
<circle cx="382.72" cy="182.18" r="1.15" fill="#5cb947"/>
<circle cx="378.29" cy="190.45" r="1.15" fill="#f57b20"/>
<circle cx="373.31" cy="198.36" r="1.15" fill="#f57b20"/>
<circle cx="377.12" cy="204.24" r="1.15" fill="#22c3a3"/>
<circle cx="367.88" cy="206.06" r="1.15" fill="#22c3a3"/>
<circle cx="396.28" cy="203.78" r="1.15" fill="#f3df12"/>
<circle cx="388.71" cy="209.30" r="1.15" fill="#5cb947"/>
<circle cx="380.79" cy="214.27" r="1.15" fill="#22c3a3"/>
<circle cx="372.48" cy="218.28" r="1.15" fill="#22c3a3"/>
<circle cx="362.51" cy="215.06" r="1.15" fill="#22c3a3"/>
<circle cx="271.31" cy="197.90" r="1.15" fill="#a9d13a"/>
<circle cx="281.04" cy="197.37" r="1.15" fill="#f3df12"/>
<circle cx="290.81" cy="197.36" r="1.15" fill="#f57b20"/>
<circle cx="267.15" cy="219.89" r="1.15" fill="#a9d13a"/>
<circle cx="276.29" cy="216.52" r="1.15" fill="#f57b20"/>
<circle cx="285.62" cy="213.63" r="1.15" fill="#f57b20"/>
<circle cx="296.09" cy="208.00" r="1.15" fill="#f3df12"/>
<circle cx="306.69" cy="205.40" r="1.15" fill="#22c3a3"/>
<circle cx="316.33" cy="206.36" r="1.15" fill="#22c3a3"/>
<circle cx="269.66" cy="242.14" r="1.15" fill="#f3df12"/>
<circle cx="277.40" cy="236.22" r="1.15" fill="#f57b20"/>
<circle cx="271.08" cy="267.39" r="1.15" fill="#f57b20"/>
<circle cx="276.47" cy="259.03" r="1.15" fill="#f57b20"/>
<circle cx="282.29" cy="250.86" r="1.15" fill="#f57b20"/>
<circle cx="287.86" cy="240.86" r="1.15" fill="#f57b20"/>
<circle cx="292.02" cy="265.88" r="1.15" fill="#f57b20"/>
<circle cx="293.21" cy="279.62" r="1.15" fill="#f57b20"/>
<circle cx="302.95" cy="296.97" r="1.15" fill="#f57b20"/>
<circle cx="303.44" cy="287.02" r="1.15" fill="#f57b20"/>
<circle cx="303.39" cy="276.33" r="1.15" fill="#f57b20"/>
<circle cx="303.42" cy="264.89" r="1.15" fill="#5cb947"/>
<circle cx="301.58" cy="249.02" r="1.15" fill="#5cb947"/>
<circle cx="304.77" cy="235.31" r="1.15" fill="#22c3a3"/>
<circle cx="327.37" cy="278.05" r="1.15" fill="#f57b20"/>
<circle cx="327.07" cy="268.67" r="1.15" fill="#f57b20"/>
<circle cx="345.01" cy="297.75" r="1.15" fill="#f57b20"/>
<circle cx="340.96" cy="288.89" r="1.15" fill="#f57b20"/>
<circle cx="363.94" cy="303.84" r="1.15" fill="#f57b20"/>
<circle cx="357.54" cy="296.22" r="1.15" fill="#f57b20"/>
<circle cx="445.59" cy="299.01" r="1.15" fill="#f3df12"/>
<circle cx="434.30" cy="299.00" r="1.15" fill="#f3df12"/>
<circle cx="422.64" cy="298.75" r="1.15" fill="#f57b20"/>
<circle cx="411.09" cy="297.65" r="1.15" fill="#f57b20"/>
<circle cx="399.95" cy="295.47" r="1.15" fill="#f3df12"/>
<circle cx="470.61" cy="227.50" r="1.15" fill="#f57b20"/>
<circle cx="461.28" cy="233.87" r="1.15" fill="#f3df12"/>
<circle cx="451.50" cy="240.22" r="1.15" fill="#f57b20"/>
<circle cx="441.34" cy="245.82" r="1.15" fill="#f57b20"/>
<circle cx="443.66" cy="266.97" r="1.15" fill="#f3df12"/>
<circle cx="433.08" cy="268.58" r="1.15" fill="#f57b20"/>
<circle cx="429.52" cy="254.41" r="1.15" fill="#f3df12"/>
<circle cx="410.36" cy="271.79" r="1.15" fill="#f57b20"/>
<circle cx="385.61" cy="304.83" r="1.15" fill="#f3df12"/>
<circle cx="377.22" cy="299.05" r="1.15" fill="#f57b20"/>
<circle cx="389.91" cy="280.70" r="1.15" fill="#f3df12"/>
<circle cx="370.82" cy="282.39" r="1.15" fill="#f57b20"/>
<circle cx="354.38" cy="278.69" r="1.15" fill="#f57b20"/>
<circle cx="343.76" cy="271.07" r="1.15" fill="#22c3a3"/>
<circle cx="336.58" cy="261.80" r="1.15" fill="#22c3a3"/>
<circle cx="322.62" cy="246.22" r="1.15" fill="#22c3a3"/>
<circle cx="320.77" cy="226.08" r="1.15" fill="#22c3a3"/>
<circle cx="341.64" cy="209.91" r="1.15" fill="#000"/>
<circle cx="342.2" cy="222.7" r="194.7" fill="none" stroke="#f81818" stroke-width="6.4"/>
<line x1="291.81" y1="34.63" x2="294.40" y2="44.29" stroke="#f81818" stroke-width="3.8"/>
<line x1="251.22" y1="50.56" x2="255.90" y2="59.40" stroke="#f81818" stroke-width="3.8"/>
<line x1="226.58" y1="66.04" x2="232.52" y2="74.09" stroke="#f81818" stroke-width="3.8"/>
<line x1="194.62" y1="95.70" x2="202.20" y2="102.22" stroke="#f81818" stroke-width="3.8"/>
<line x1="177.34" y1="119.11" x2="185.81" y2="124.43" stroke="#f81818" stroke-width="3.8"/>
<line x1="154.13" y1="172.31" x2="163.79" y2="174.90" stroke="#f81818" stroke-width="3.8"/>
<line x1="147.64" y1="229.98" x2="157.63" y2="229.61" stroke="#f81818" stroke-width="3.8"/>
<line x1="158.43" y1="287.01" x2="167.86" y2="283.70" stroke="#f81818" stroke-width="3.8"/>
<line x1="185.54" y1="338.32" x2="193.59" y2="332.38" stroke="#f81818" stroke-width="3.8"/>
<line x1="264.34" y1="401.15" x2="268.34" y2="391.99" stroke="#f81818" stroke-width="3.8"/>
<line x1="306.00" y1="414.01" x2="307.86" y2="404.18" stroke="#f81818" stroke-width="3.8"/>
<line x1="364.00" y1="416.18" x2="362.88" y2="406.24" stroke="#f81818" stroke-width="3.8"/>
<line x1="406.51" y1="406.47" x2="403.20" y2="397.04" stroke="#f81818" stroke-width="3.8"/>
<line x1="445.79" y1="387.56" x2="440.47" y2="379.09" stroke="#f81818" stroke-width="3.8"/>
<line x1="507.06" y1="326.29" x2="498.59" y2="320.97" stroke="#f81818" stroke-width="3.8"/>
<line x1="536.76" y1="215.42" x2="526.77" y2="215.79" stroke="#f81818" stroke-width="3.8"/>
<text transform="translate(267.54 34.14) rotate(-21.60)" text-anchor="middle" dy="0.36em" font-size="10" font-weight="bold" fill="#111" stroke="#111" stroke-width="0.25">IR25a</text>
<text transform="translate(203.54 73.48) rotate(-42.90)" text-anchor="middle" dy="0.36em" font-size="10" font-weight="bold" fill="#111" stroke="#111" stroke-width="0.25">IR8a</text>
<text transform="translate(155.18 140.22) rotate(-66.20)" text-anchor="middle" dy="0.36em" font-size="10" font-weight="bold" fill="#111" stroke="#111" stroke-width="0.25">IR93a</text>
<text transform="translate(139.47 202.82) rotate(95.60)" text-anchor="middle" dy="0.36em" font-size="10" font-weight="bold" fill="#111" stroke="#111" stroke-width="0.25">IR21a</text>
<text transform="translate(142.03 263.06) rotate(78.60)" text-anchor="middle" dy="0.36em" font-size="10" font-weight="bold" fill="#111" stroke="#111" stroke-width="0.25">IR68a</text>
<text transform="translate(160.18 317.66) rotate(62.45)" text-anchor="middle" dy="0.36em" font-size="10" font-weight="bold" fill="#111" stroke="#111" stroke-width="0.25">IR41a</text>
<text transform="translate(279.45 416.97) rotate(17.90)" text-anchor="middle" dy="0.36em" font-size="10" font-weight="bold" fill="#111" stroke="#111" stroke-width="0.25">IR40a</text>
<text transform="translate(390.06 422.04) rotate(-13.50)" text-anchor="middle" dy="0.36em" font-size="10" font-weight="bold" fill="#111" stroke="#111" stroke-width="0.25">IR64a</text>
<text transform="translate(432.72 406.18) rotate(-26.26)" text-anchor="middle" dy="0.36em" font-size="10" font-weight="bold" fill="#111" stroke="#111" stroke-width="0.25">IR75d</text>
<text transform="translate(487.23 366.87) rotate(-45.17)" text-anchor="middle" dy="0.36em" font-size="10" font-weight="bold" fill="#111" stroke="#111" stroke-width="0.25">IR75p</text>
<text transform="translate(539.55 276.69) rotate(-74.70)" text-anchor="middle" dy="0.36em" font-size="10" font-weight="bold" fill="#111" stroke="#111" stroke-width="0.25">IR75q</text>
<text transform="translate(341.3 230.80) scale(0.87 1)" font-size="7.8" font-weight="bold" font-style="italic" fill="#10b040" stroke="#10b040" stroke-width="0.2">Bombyx mori</text>
<text transform="translate(341.3 239.93) scale(0.87 1)" font-size="7.8" font-weight="bold" font-style="italic" fill="#f5302e" stroke="#f5302e" stroke-width="0.2">Sitotroga cerealella</text>
<text transform="translate(341.3 249.06) scale(0.87 1)" font-size="7.8" font-weight="bold" font-style="italic" fill="#b347c6" stroke="#b347c6" stroke-width="0.2">Streltzoviella insularis</text>
<text transform="translate(341.3 258.19) scale(0.87 1)" font-size="7.8" font-weight="bold" font-style="italic" fill="#1f82d0" stroke="#1f82d0" stroke-width="0.2">Conogethes pinicolalis</text>
</svg></body></html>
